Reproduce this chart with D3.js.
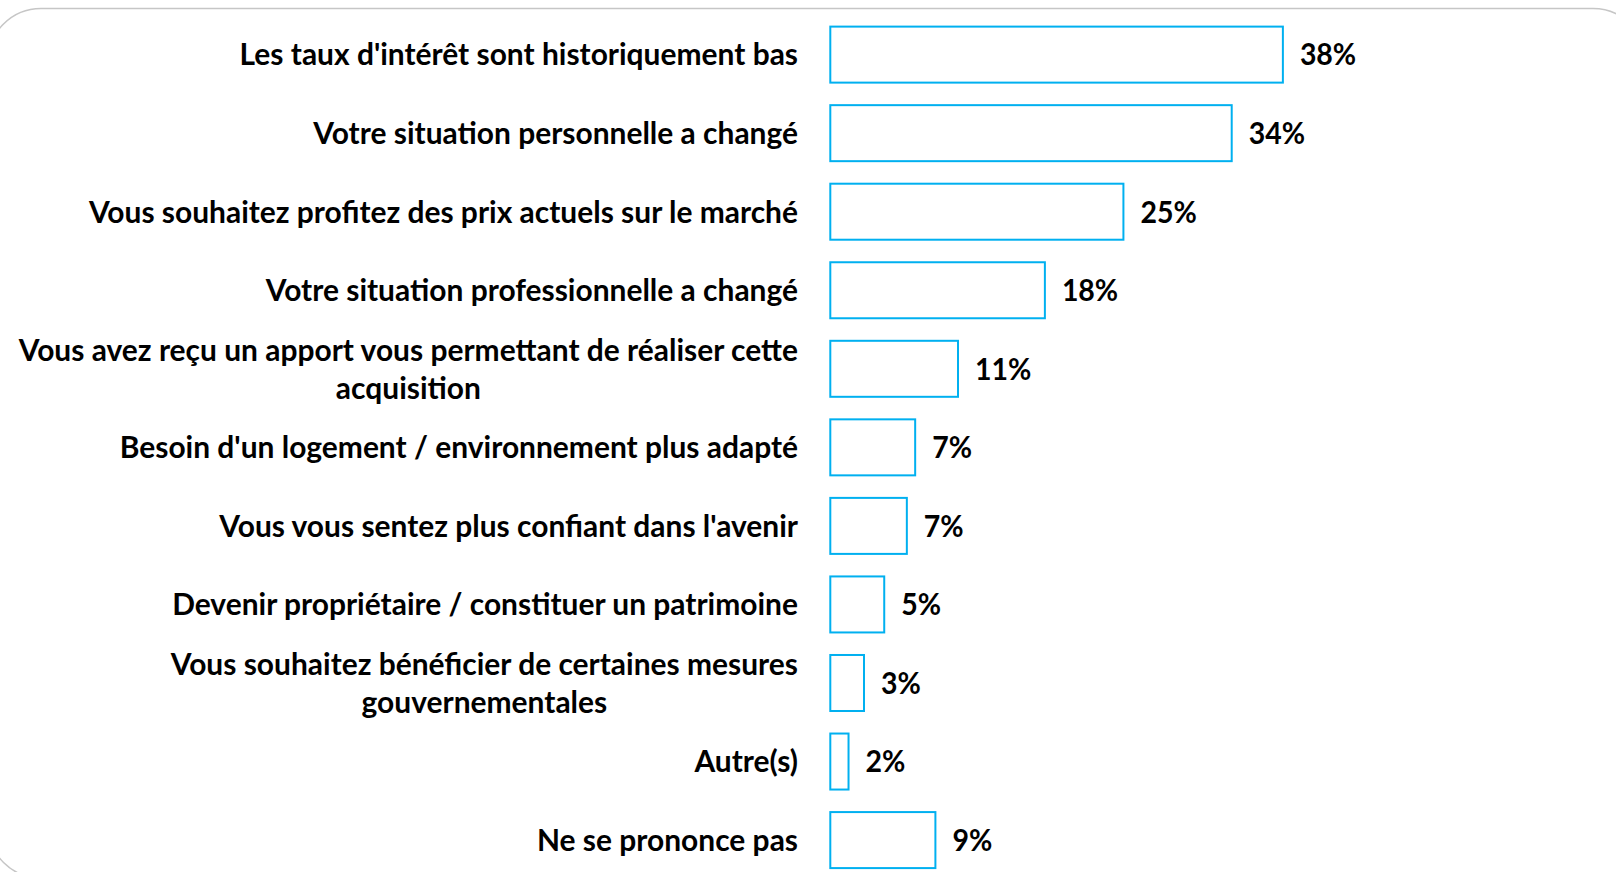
<!DOCTYPE html>
<html><head><meta charset="utf-8">
<script src="https://cdn.jsdelivr.net/npm/d3@7"></script>
<style>html,body{margin:0;padding:0;background:#fff;overflow:hidden}</style>
</head><body>
<svg id="chart" width="1616" height="872"></svg>
<script>
const categories = [
  "Les taux d'intérêt sont historiquement bas",
  "Votre situation personnelle a changé",
  "Vous souhaitez profitez des prix actuels sur le marché",
  "Votre situation professionnelle a changé",
  "Vous avez reçu un apport vous permettant de réaliser cette acquisition",
  "Besoin d'un logement / environnement plus adapté",
  "Vous vous sentez plus confiant dans l'avenir",
  "Devenir propriétaire / constituer un patrimoine",
  "Vous souhaitez bénéficier de certaines mesures gouvernementales",
  "Autre(s)",
  "Ne se prononce pas"
];
const values = [38.2, 33.9, 24.8, 18.2, 10.9, 7.3, 6.6, 4.7, 3.0, 1.7, 9.0];
const valueLabels = ["38%", "34%", "25%", "18%", "11%", "7%", "7%", "5%", "3%", "2%", "9%"];

const W = 1616, H = 872;
const svg = d3.select("#chart");
const FONT = "Lato, 'Open Sans', sans-serif";
const FS = 30;
const BLUE = "#00B0F0";

// rounded frame
svg.append("rect")
  .attr("x", -12).attr("y", 8.5).attr("width", 1658).attr("height", 869.5)
  .attr("rx", 53).attr("ry", 53)
  .attr("fill", "none").attr("stroke", "#c6c6c6").attr("stroke-width", 1.5);

const x = d3.scaleLinear().domain([0, 40]).range([829.3, 829.3 + 40 * 11.9]);
const y = d3.scaleBand().domain(categories).range([15.4, 879.3])
  .paddingInner(0.2615).paddingOuter(0.13);
const bw = y.bandwidth();

// measure condensation factor
const probe = svg.append("text").attr("font-family", FONT).attr("font-size", FS)
  .attr("font-weight", "bold").text(categories[0]);
const k = 558.6 / probe.node().getComputedTextLength();
probe.remove();
const kv = k * 0.95;

const rows = categories.map((c, i) => ({ c, v: values[i], lab: valueLabels[i] }));

// bars
svg.append("g").selectAll("rect").data(rows).join("rect")
  .attr("x", x(0) + 1)
  .attr("y", d => y(d.c) + 1)
  .attr("width", d => x(d.v) - x(0) - 2)
  .attr("height", bw - 2)
  .attr("fill", "#fff")
  .attr("stroke", BLUE).attr("stroke-width", 2);

// value labels
svg.append("g").selectAll("text").data(rows).join("text")
  .attr("transform", d => `translate(${x(d.v) + 16},${y(d.c) + bw / 2}) scale(${kv},1)`)
  .attr("dy", "0.36em")
  .attr("font-family", FONT).attr("font-size", FS).attr("font-weight", "bold")
  .attr("fill", "#000")
  .text(d => d.lab);

// category labels (wrapped, block right-aligned, lines centered)
const labelRight = 798;
const maxW = 790 / k;
const lineH = 38;
const lg = svg.append("g");
rows.forEach(d => {
  const g = lg.append("g")
    .attr("transform", `translate(${labelRight},${y(d.c) + bw / 2}) scale(${k},1)`)
    .attr("font-family", FONT).attr("font-size", FS).attr("font-weight", "bold")
    .attr("fill", "#000");
  const t = g.append("text");
  const words = d.c.split(" ");
  const lines = [];
  let cur = [];
  words.forEach(w => {
    const test = cur.concat([w]).join(" ");
    t.text(test);
    if (t.node().getComputedTextLength() > maxW && cur.length) {
      lines.push(cur.join(" "));
      cur = [w];
    } else cur.push(w);
  });
  lines.push(cur.join(" "));
  t.remove();
  const widths = lines.map(l => { const tt = g.append("text").text(l); const w = tt.node().getComputedTextLength(); tt.remove(); return w; });
  const bwid = d3.max(widths);
  const n = lines.length;
  lines.forEach((l, i) => {
    g.append("text")
      .attr("x", n === 1 ? 0 : -bwid / 2)
      .attr("text-anchor", n === 1 ? "end" : "middle")
      .attr("y", (i - (n - 1) / 2) * lineH)
      .attr("dy", "0.36em")
      .text(l);
  });
});
</script>
</body></html>
